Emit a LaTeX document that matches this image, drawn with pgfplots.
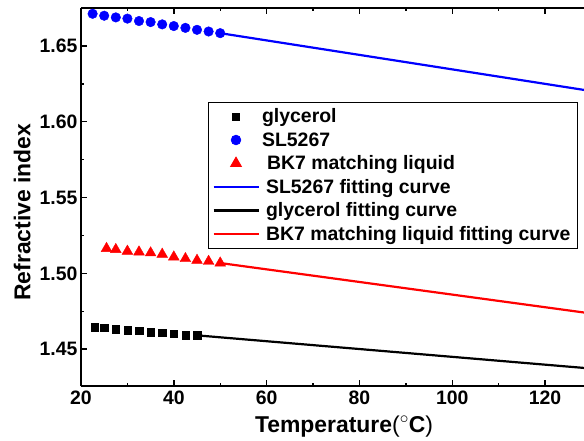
\documentclass[border=0pt]{standalone}
\usepackage{fontspec}
\setmainfont{Liberation Sans}
\usepackage{pgfplots}
\pgfplotsset{compat=1.18}
\pgfplotsset{
  markonly legend/.style={legend image code/.code={\draw[##1] plot coordinates {(22.5bp,0bp)};}},
  lineleg/.style={legend image code/.code={\draw[##1, line width=2.2bp] (0bp,0bp) -- (45bp,0bp);}},
}
\begin{document}
\begin{tikzpicture}
\begin{axis}[
  scale only axis,
  width=503bp, height=378bp,
  xmin=20, xmax=128.4, ymin=1.4257, ymax=1.675,
  axis x line=box, axis y line=left,
  axis line style={line width=1.7bp, black, -},
  tick align=inside,
  xtick={20,40,...,120},
  ytick={1.45,1.50,1.55,1.60,1.65},
  minor x tick num=1, minor y tick num=1,
  major tick length=6bp, minor tick length=3.5bp,
  every tick/.style={black, line width=1.4bp},
  tick label style={font=\fontsize{19.5}{19.5}\selectfont\bfseries},
  /pgf/number format/assume math mode=true,
  yticklabel style={/pgf/number format/.cd, fixed, fixed zerofill, precision=2},
  xticklabel style={yshift=-1bp},
  xlabel={Temperature{\mdseries(}$^{\circ}$C{\mdseries)}},
  ylabel={Refractive index},
  label style={font=\fontsize{23}{23}\selectfont\bfseries},
  xlabel style={at={(axis description cs:0.523,-0.123)}, anchor=base},
  ylabel style={at={(axis description cs:-0.117,0.46)}, anchor=center},
  legend cell align=left,
  legend style={at={(axis description cs:0.2525,0.7513)}, anchor=north west,
    draw=black, line width=0.8bp, font=\fontsize{19.5}{19.5}\selectfont\bfseries,
    inner xsep=4bp, inner ysep=4bp, row sep=3bp,
    nodes={inner sep=2.5bp}},
  lineleg,
]
\coordinate (LL) at (rel axis cs:0,0);
\coordinate (UR) at (rel axis cs:1,1);
% measured data
\addplot[black, mark=square*, mark size=3.7bp, only marks, markonly legend]
  coordinates {
  (23,1.4644) (25,1.4641) (27.5,1.4632) (30,1.4626) (32.5,1.4621)
  (35,1.4613) (37.5,1.4608) (40,1.4601) (42.5,1.4593) (45,1.4591)};
\addlegendentry{glycerol}
\addplot[blue, mark=*, mark size=4.8bp, only marks, markonly legend]
  coordinates {
  (22.5,1.6712) (25,1.6699) (27.5,1.6688) (30,1.6680) (32.5,1.6664)
  (35,1.6657) (37.5,1.6642) (40,1.6631) (42.5,1.6619) (45,1.6606)
  (47.5,1.6595) (50,1.6584)};
\addlegendentry{SL5267}
\addplot[red, mark=triangle*, mark size=6.2bp, only marks, markonly legend]
  coordinates {
  (25.5,1.5164) (27.5,1.5157) (30,1.5146) (32.5,1.5141) (35,1.5135)
  (37.5,1.5126) (40,1.5108) (42.5,1.5097) (45,1.5086) (47.5,1.5079)
  (50,1.5068)};
\addlegendentry{\hspace{5bp}BK7 matching liquid}
% fitting curves
\addplot[blue, line width=2.2bp] coordinates {(50,1.6584) (130,1.6202)};
\addlegendentry{\hspace{4bp}SL5267 fitting curve}
\addplot[black, line width=2.2bp] coordinates {(45,1.4591) (130,1.4372)};
\addlegendentry{\hspace{4bp}glycerol fitting curve}
\addplot[red, line width=2.2bp] coordinates {(50,1.5068) (130,1.4735)};
\addlegendentry{\hspace{4bp}BK7 matching liquid fitting curve}
\end{axis}
\pgfresetboundingbox
\useasboundingbox ([xshift=-81bp,yshift=-55bp]LL) rectangle ([yshift=8bp]UR);
\end{tikzpicture}
\end{document}
